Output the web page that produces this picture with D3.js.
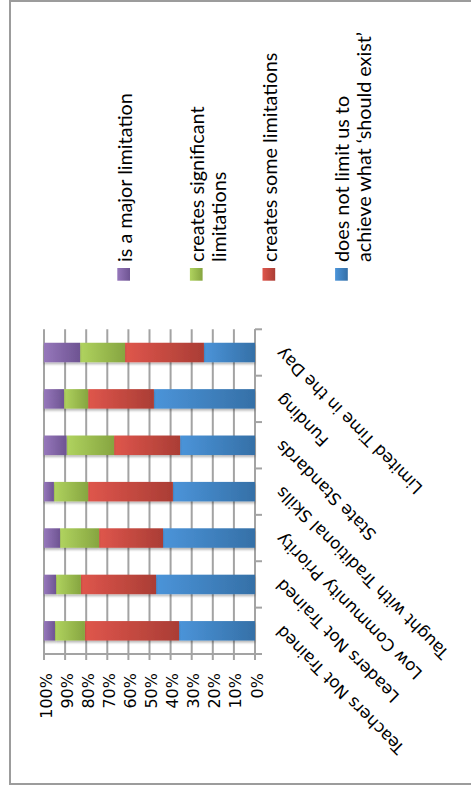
<!DOCTYPE html>
<html>
<head>
<meta charset="utf-8">
<script src="https://cdn.jsdelivr.net/npm/d3@7"></script>
<style>
  html, body { margin: 0; padding: 0; background: #fff; }
  svg { display: block; }
</style>
</head>
<body>
<svg id="chart" width="471" height="787"></svg>
<script>
// ---------- data ----------
const categories = [
  "Teachers Not Trained",
  "Leaders Not Trained",
  "Low Community Priority",
  "Taught with Traditional Skills",
  "State Standards",
  "Funding",
  "Limited Time in the Day"
];
const seriesKeys = ["notLimit", "someLim", "signifLim", "majorLim"];
const notLimit  = [36.0, 46.9, 43.6, 38.9, 35.5, 47.9, 24.2];
const someLim   = [44.6, 35.6, 30.3, 40.2, 31.3, 31.2, 37.4];
const signifLim = [14.2, 11.8, 18.5, 16.2, 22.5, 11.4, 21.3];
const majorLim  = [ 5.2,  5.7,  7.6,  4.7, 10.7,  9.5, 17.1];
const percentTicks = [0, 10, 20, 30, 40, 50, 60, 70, 80, 90, 100];
const legendOrder = ["majorLim", "signifLim", "someLim", "notLimit"];
const legendLabels = {
  majorLim: ["is a major limitation"],
  signifLim: ["creates significant", "limitations"],
  someLim: ["creates some limitations"],
  notLimit: ["does not limit us to", "achieve what \u2018should exist\u2019"]
};
const colors = {
  majorLim:  ["#9677bb", "#6e5492"],
  signifLim: ["#b0d35f", "#86a540"],
  someLim:   ["#df564c", "#aa3d35"],
  notLimit:  ["#4b94d9", "#3570a7"]
};

// ---------- build table ----------
const table = categories.map((c, i) => ({
  cat: c,
  notLimit: notLimit[i],
  someLim: someLim[i],
  signifLim: signifLim[i],
  majorLim: majorLim[i]
}));

const svg = d3.select("#chart");
const defs = svg.append("defs");
Object.keys(colors).forEach(k => {
  const g = defs.append("linearGradient").attr("id", "g_" + k)
    .attr("x1", 0).attr("x2", 1).attr("y1", 0).attr("y2", 0);
  g.append("stop").attr("offset", "0%").attr("stop-color", colors[k][0]);
  g.append("stop").attr("offset", "100%").attr("stop-color", colors[k][1]);
});
const f = defs.append("filter").attr("id", "shadow")
  .attr("x", "-5%").attr("y", "-20%").attr("width", "110%").attr("height", "160%");
f.append("feDropShadow").attr("dx", 0).attr("dy", 2).attr("stdDeviation", 1.2)
  .attr("flood-color", "#000").attr("flood-opacity", 0.28);

// frame
svg.append("path")
  .attr("d", "M480,1 H10 V784 H480")
  .attr("fill", "none").attr("stroke", "#9c9c9c").attr("stroke-width", 2);

// ---------- scales ----------
const x = d3.scaleLinear().domain([0, 100]).range([255, 44]);
const y = d3.scaleBand()
  .domain(categories.slice().reverse())
  .range([329.3, 654])
  .paddingInner(0.58).paddingOuter(0.29);

const yTop = y.range()[0], yBot = y.range()[1];
const step = y.step();

// gridlines
svg.append("g").selectAll("line").data(percentTicks).join("line")
  .attr("x1", d => x(d)).attr("x2", d => x(d))
  .attr("y1", yTop).attr("y2", yBot + 6)
  .attr("stroke", "#a3a3a3").attr("stroke-width", 2);

// value axis line (bottom)
svg.append("line")
  .attr("x1", x(100)).attr("x2", x(0) + 6)
  .attr("y1", yBot).attr("y2", yBot)
  .attr("stroke", "#a3a3a3").attr("stroke-width", 2);

// category axis line (right) with ticks at boundaries
svg.append("line")
  .attr("x1", x(0)).attr("x2", x(0))
  .attr("y1", yTop).attr("y2", yBot)
  .attr("stroke", "#a3a3a3").attr("stroke-width", 2);
svg.append("g").selectAll("line").data(d3.range(categories.length + 1)).join("line")
  .attr("x1", x(0)).attr("x2", x(0) + 7)
  .attr("y1", i => yTop + i * step).attr("y2", i => yTop + i * step)
  .attr("stroke", "#a3a3a3").attr("stroke-width", 2);

// ---------- bars ----------
const stack = d3.stack().keys(seriesKeys)(table);
const layers = svg.append("g").selectAll("g").data(stack).join("g")
  .attr("fill", d => "url(#g_" + d.key + ")");
layers.selectAll("rect").data(d => d).join("rect")
  .attr("x", d => x(d[1]))
  .attr("width", d => x(d[0]) - x(d[1]))
  .attr("y", d => y(d.data.cat))
  .attr("height", y.bandwidth())
  .attr("filter", "url(#shadow)");

// ---------- percent labels ----------
svg.append("g").selectAll("text").data(percentTicks).join("text")
  .attr("transform", d => `translate(${x(d) + 2},673) rotate(-90)`)
  .attr("text-anchor", "end")
  .attr("dominant-baseline", "central")
  .attr("font-family", "DejaVu Sans, Verdana, sans-serif")
  .attr("font-size", 16)
  .attr("fill", "#000")
  .text(d => d + "%");

// ---------- category labels ----------
svg.append("g").selectAll("text").data(categories).join("text")
  .attr("transform", d => `translate(283,${y(d) + y.bandwidth() / 2 - 6}) rotate(-135)`)
  .attr("text-anchor", "end")
  .attr("font-family", "DejaVu Sans, Verdana, sans-serif")
  .attr("font-size", 16.6)
  .attr("fill", "#000")
  .text(d => d);

// ---------- legend ----------
const legX0 = 117.3, legStep = 72.6, lineH = 21.7;
const leg = svg.append("g").selectAll("g").data(legendOrder).join("g")
  .attr("transform", (d, i) => `translate(${legX0 + i * legStep},0)`);
leg.append("rect")
  .attr("x", 0).attr("y", 268).attr("width", 12.7).attr("height", 12.7)
  .attr("fill", d => "url(#g_" + d + ")");
leg.each(function(k) {
  const g = d3.select(this);
  legendLabels[k].forEach((line, j) => {
    g.append("text")
      .attr("transform", `translate(${14.2 + j * lineH},262) rotate(-90)`)
      .attr("font-family", "Lato, 'Open Sans', sans-serif")
      .attr("font-size", 19.8)
      .attr("fill", "#000")
      .text(line);
  });
});
</script>
</body>
</html>
